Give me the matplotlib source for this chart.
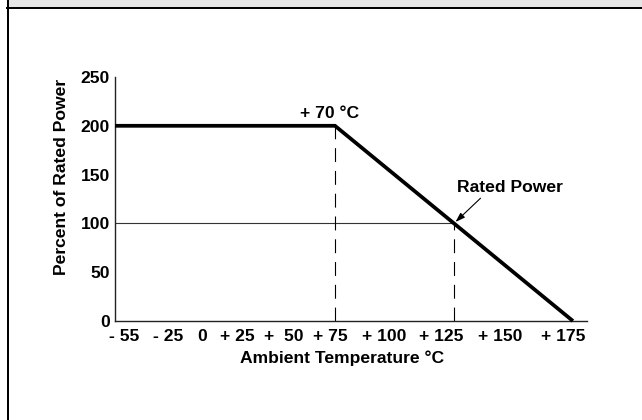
import numpy as np
import matplotlib
matplotlib.use("Agg")
import matplotlib.pyplot as plt
from matplotlib.patches import Rectangle
from matplotlib.lines import Line2D
from matplotlib.transforms import ScaledTranslation

plt.rcParams['font.family'] = ['Liberation Sans', 'DejaVu Sans']
plt.rcParams['font.weight'] = 'bold'
FS = 12.6

# ---- data ----
curve_temp = [-55, 70, 175]          # ambient temperature (deg C)
curve_power = [200, 200, 0]          # percent of rated power
knee_temp = 70
rated_temp = 122.5                   # temperature where the curve crosses 100 %
rated_power = 100
x_tick_temps = [-55, -25, 0, 25, 50, 75, 100, 125, 150, 175]
x_tick_labels = ['- 55', '- 25', '0', '+ 25', '+  50', '+ 75', '+ 100', '+ 125', '+ 150', '+ 175']
y_ticks = [0, 50, 100, 150, 200, 250]

# ---- layout / style ----
W, H = 642, 420
fig = plt.figure(figsize=(W / 100, H / 100), dpi=100)

# schematic (non-uniform) temperature axis: two linear segments
seg_t = np.array([-55.0, 70.0, 181.2])
seg_p = np.array([115.0, 335.0, 587.0])
def fwd(t):
    return np.interp(np.asarray(t, float), seg_t, seg_p)
def inv(p):
    return np.interp(np.asarray(p, float), seg_p, seg_t)

ax = fig.add_axes([115 / W, 1 - 321 / H, 472 / W, 244 / H])
ax.set_xscale('function', functions=(fwd, inv))
ax.set_xlim(seg_t[0], seg_t[-1])
ax.set_ylim(0, 250)

for s in ['top', 'right']:
    ax.spines[s].set_visible(False)
for s in ['left', 'bottom']:
    ax.spines[s].set_linewidth(1.0)
    ax.spines[s].set_color('#222222')

ax.set_xticks(x_tick_temps, labels=x_tick_labels)
ax.set_yticks(y_ticks)
ax.tick_params(axis='x', length=0, pad=5.5, labelsize=FS)
ax.tick_params(axis='y', length=0, pad=3.6, labelsize=FS)
for lab in ax.get_yticklabels():
    lab.set_fontweight('bold')

# schematic label placement shifts (pixels)
label_dx = [9, 0, -10, -18, -16, -16, -19, -18, -16, -10]
for lab, dx in zip(ax.get_xticklabels(), label_dx):
    lab.set_fontweight('bold')
    lab.set_transform(lab.get_transform() + ScaledTranslation(dx / 100, 0, fig.dpi_scale_trans))

# reference lines
dash = (0, (12.5, 8))
ax.plot([curve_temp[0], rated_temp], [rated_power, rated_power], color='#333333', lw=0.8, zorder=2)
ax.plot([knee_temp, knee_temp], [0, curve_power[0]], color='black', lw=0.8, ls=dash, zorder=2)
ax.plot([rated_temp, rated_temp], [0, rated_power], color='black', lw=0.8, ls=dash, zorder=2)

# derating curve
ax.plot(curve_temp, curve_power, color='black', lw=2.7, solid_joinstyle='miter',
        solid_capstyle='butt', zorder=3, clip_on=False)

ax.annotate('+ 70 °C', xy=(knee_temp, curve_power[0]), xytext=(-3.6, 5.5), textcoords='offset points',
            ha='center', va='baseline', fontsize=FS, fontweight='bold')
ax.annotate('Rated Power', xy=(rated_temp, rated_power), xytext=(40.3, 22.3), textcoords='offset points',
            ha='center', va='baseline', fontsize=FS, fontweight='bold',
            arrowprops=dict(arrowstyle='-|>,head_length=0.45,head_width=0.15', color='black', lw=0.8,
                            relpos=(0.25, 0.0), shrinkA=0, shrinkB=1.5))

fig.text(62 / W, 1 - 177 / H, 'Percent of Rated Power', rotation=90, ha='center', va='center',
         fontsize=FS, fontweight='bold')
fig.text(342 / W, 1 - 363.3 / H, 'Ambient Temperature °C', ha='center', va='baseline',
         fontsize=FS, fontweight='bold')

# frame: grey header band, top rule and left rule
fig.patches.append(Rectangle((9 / W, 1 - 7 / H), 1 - 9 / W, 7 / H, transform=fig.transFigure,
                             facecolor='#e5e5e5', edgecolor='none', zorder=0))
fig.lines.append(Line2D([7 / W, 1], [1 - 8 / H, 1 - 8 / H], transform=fig.transFigure,
                        color='black', lw=1.44))
fig.lines.append(Line2D([8 / W, 8 / W], [0, 1], transform=fig.transFigure, color='black', lw=1.44))

fig.savefig('out.png', dpi=100)
